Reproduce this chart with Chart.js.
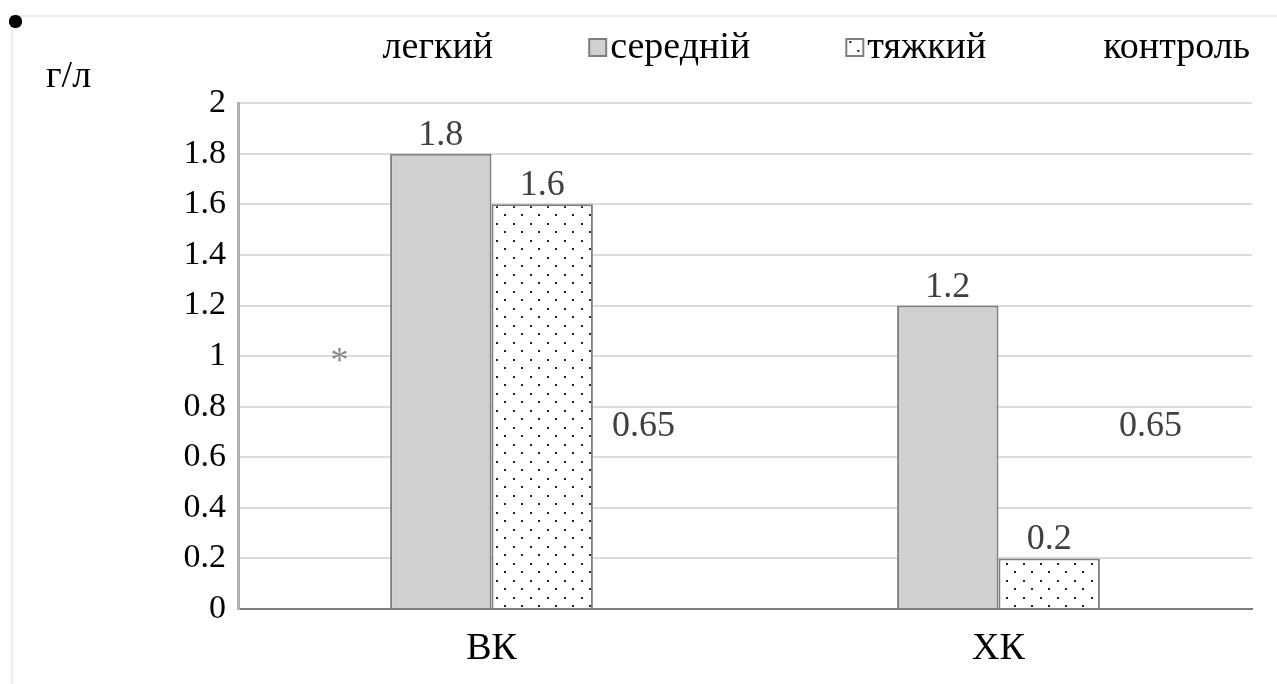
<!DOCTYPE html>
<html>
<head>
<meta charset="utf-8">
<script src="https://cdn.jsdelivr.net/npm/chart.js@4/dist/chart.umd.min.js"></script>
<style>
  html, body { margin: 0; padding: 0; background: #fff; }
  #wrap { position: relative; width: 1277px; height: 684px; }
  #frame { position: absolute; left: 11px; top: 15px; right: 0; bottom: 0;
           border-top: 2px solid #ececec; border-left: 2px solid #ececec; }
  #dot { position: absolute; left: 9px; top: 15px; width: 13px; height: 13px;
         background: #000; border-radius: 45%; }
  canvas { position: absolute; left: 0; top: 0; }
</style>
</head>
<body>
<div id="wrap">
  <div id="frame"></div>
  <div id="dot"></div>
  <canvas id="c" width="1277" height="684"></canvas>
</div>
<script>
// Groups and series
const categories = ['ВК', 'ХК'];
const seriesNames = ['легкий', 'середній', 'тяжкий', 'контроль'];
const legkyi   = [0.9, null];
const serednii = [1.8, 1.2];
const tiazhkyi = [1.6, 0.2];
const kontrol  = [0.65, 0.65];
// Text shown above the bars
const legkyiLabels   = ['*', ''];
const seredniiLabels = ['1.8', '1.2'];
const tiazhkyiLabels = ['1.6', '0.2'];
const kontrolLabels  = ['0.65', '0.65'];
const yTicks = [0, 0.2, 0.4, 0.6, 0.8, 1, 1.2, 1.4, 1.6, 1.8, 2];
const unitLabel = 'г/л';

const SERIF = '"Liberation Serif", "Times New Roman", serif';
const GREY_FILL = '#d0cfd1';
const EDGE = '#7f7f7f';

// Dotted fill for the "тяжкий" series
function dotPattern() {
  const t = document.createElement('canvas');
  t.width = 17; t.height = 17;
  const g = t.getContext('2d');
  g.fillStyle = '#fff';
  g.fillRect(0, 0, 17, 17);
  g.fillStyle = '#222';
  g.fillRect(3, 2, 2, 2);
  g.fillRect(11, 10, 2, 2);
  return g.createPattern(t, 'repeat');
}
const dots = dotPattern();

// Legend swatch: a wide transparent strip with the small box at its right end,
// so the box sits right next to the legend text
const LEGEND_FONT = 38;
const SWATCH_SLOT = 96;               // legend pointStyleWidth
const SWATCH_W = 130, SWATCH_H = 22;
function swatch(kind) {
  const t = document.createElement('canvas');
  t.width = SWATCH_W; t.height = SWATCH_H;
  const g = t.getContext('2d');
  if (kind === 'none') return t;
  const x = SWATCH_SLOT / 2 + SWATCH_W / 2 - 2, y = 2, s = 17;
  g.fillStyle = kind === 'grey' ? GREY_FILL : '#fff';
  g.fillRect(x, y, s, s);
  if (kind === 'dots') {
    g.fillStyle = '#222';
    g.fillRect(x + 3, y + 2, 2, 2);
    g.fillRect(x + 11, y + 11, 2, 2);
  }
  g.strokeStyle = EDGE;
  g.lineWidth = 2;
  g.strokeRect(x, y, s, s);
  return t;
}
const swatches = [swatch('none'), swatch('grey'), swatch('dots'), swatch('none')];

// Labels above each bar, taken from the dataset's label array
const barLabels = {
  id: 'barLabels',
  afterDatasetsDraw(chart) {
    const ctx = chart.ctx;
    ctx.save();
    ctx.textAlign = 'center';
    ctx.textBaseline = 'alphabetic';
    chart.data.datasets.forEach((ds, i) => {
      const meta = chart.getDatasetMeta(i);
      meta.data.forEach((bar, j) => {
        const txt = ds.valueLabels[j];
        if (!txt || ds.data[j] == null) return;
        ctx.font = '36px ' + SERIF;
        ctx.fillStyle = ds.labelColor;
        ctx.fillText(txt, bar.x, bar.y - 9);
      });
    });
    // unit caption in the top-left corner
    ctx.font = '38px ' + SERIF;
    ctx.fillStyle = '#000';
    ctx.textAlign = 'left';
    ctx.fillText(unitLabel, 46, 87);
    ctx.restore();
  }
};

new Chart(document.getElementById('c'), {
  type: 'bar',
  data: {
    labels: categories,
    datasets: [
      { label: seriesNames[0], data: legkyi, valueLabels: legkyiLabels, labelColor: '#8a8a8a',
        backgroundColor: 'rgba(0,0,0,0)', borderColor: 'rgba(0,0,0,0)', borderWidth: 0 },
      { label: seriesNames[1], data: serednii, valueLabels: seredniiLabels, labelColor: '#404040',
        backgroundColor: GREY_FILL, borderColor: EDGE, borderWidth: 2 },
      { label: seriesNames[2], data: tiazhkyi, valueLabels: tiazhkyiLabels, labelColor: '#404040',
        backgroundColor: dots, borderColor: EDGE, borderWidth: 2 },
      { label: seriesNames[3], data: kontrol, valueLabels: kontrolLabels, labelColor: '#404040',
        backgroundColor: 'rgba(0,0,0,0)', borderColor: 'rgba(0,0,0,0)', borderWidth: 0 }
    ]
  },
  plugins: [barLabels],
  options: {
    responsive: false,
    animation: false,
    events: [],
    datasets: { bar: { categoryPercentage: 0.8, barPercentage: 1.0 } },
    layout: { padding: { left: 0, right: 25, top: 27, bottom: 0 } },
    plugins: {
      tooltip: { enabled: false },
      legend: {
        position: 'top',
        align: 'end',
        labels: {
          font: { family: SERIF, size: LEGEND_FONT },
          color: '#000',
          usePointStyle: true,
          pointStyleWidth: SWATCH_SLOT,
          padding: 2,
          generateLabels(chart) {
            return chart.data.datasets.map((ds, i) => ({
              text: ds.label,
              datasetIndex: i,
              hidden: false,
              pointStyle: swatches[i],
              fillStyle: 'rgba(0,0,0,0)',
              strokeStyle: 'rgba(0,0,0,0)',
              lineWidth: 0,
              fontColor: '#000'
            }));
          }
        }
      },
      // empty spacer between the legend and the plot area
      subtitle: {
        display: true,
        text: ' ',
        weight: 500,
        font: { size: 1 },
        padding: { top: 0, bottom: 25 }
      }
    },
    scales: {
      x: {
        grid: { display: false },
        border: { display: true, color: EDGE, width: 2 },
        ticks: { font: { family: SERIF, size: 38 }, color: '#000', padding: 9 },
        afterFit(s) { s.height = 75; }
      },
      y: {
        min: 0, max: 2,
        afterBuildTicks(s) { s.ticks = yTicks.map(v => ({ value: v })); },
        grid: { color: '#dcdcdc', lineWidth: 2, drawTicks: false },
        border: { display: true, color: '#b0b0b0', width: 3 },
        ticks: { font: { family: SERIF, size: 34 }, color: '#000', padding: 12,
                 callback: v => String(v) },
        afterFit(s) { s.width = 238; }
      }
    }
  }
});
</script>
</body>
</html>
